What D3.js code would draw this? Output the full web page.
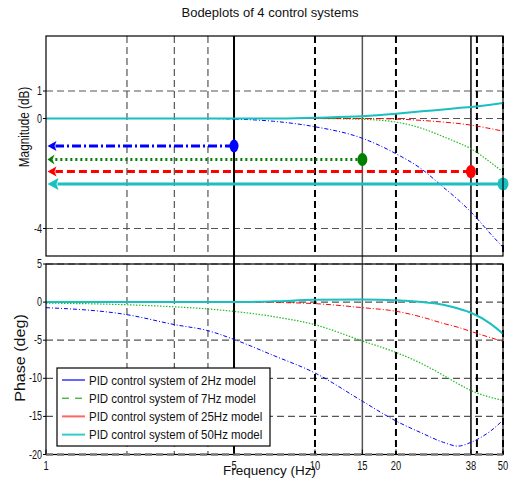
<!DOCTYPE html>
<html><head><meta charset="utf-8">
<script src="https://cdn.jsdelivr.net/npm/d3@7"></script>
<style>html,body{margin:0;padding:0;background:#fff}svg{display:block;font-family:"Liberation Sans",Arial,sans-serif}</style>
</head><body>
<svg id="c" width="514" height="481"></svg>
<script>
// ---------- data ----------
const title = "Bodeplots of 4 control systems";
const freqs = [1,2,3,4,5,7,10,15,20,25,30,34,38,45,50];
const magBlue  = [0,0,0,0,-0.02,-0.1,-0.3,-0.72,-1.28,-1.85,-2.5,-2.95,-3.4,-4.2,-4.68];
const magGreen = [0,0,0,0,0,0,0,-0.03,-0.13,-0.36,-0.66,-0.88,-1.1,-1.6,-1.95];
const magRed   = [0,0,0,0,0,0,0,0,-0.02,-0.07,-0.13,-0.18,-0.24,-0.37,-0.46];
const magCyan  = [0,0,0,0,0,0,0.03,0.08,0.17,0.26,0.33,0.38,0.42,0.5,0.56];
const phBlue   = [-0.73,-1.65,-2.95,-3.75,-4.9,-7.0,-9.3,-13,-15.6,-17.2,-18.4,-18.9,-18.4,-16.9,-15.5];
const phGreen  = [-0.13,-0.35,-0.62,-0.9,-1.22,-1.9,-2.97,-5.1,-6.6,-8.1,-9.6,-10.7,-11.6,-12.5,-12.9];
const phRed    = [0,0,0,0,0,-0.05,-0.2,-0.73,-1.2,-1.97,-2.8,-3.3,-3.85,-4.67,-5.16];
const phCyan   = [0,0,0,0,0,0.1,0.3,0.35,0.25,0,-0.35,-0.85,-1.4,-2.85,-4.15];
const legendLabels = ["PID control system of 2Hz model","PID control system of 7Hz model","PID control system of 25Hz model","PID control system of 50Hz model"];
const markerFreqs = [5,15,38,50];
const markerMags  = [-1.0,-1.49,-1.93,-2.38];
const xTicks = [1,5,10,15,20,38,50];
const xGridThin = [2,3,4];
const xGridBold = [10,20,40,50];
const magTicks = [1,0,-4];
const phTicks = [5,0,-5,-10,-15,-20];

// ---------- layout ----------
const svg = d3.select("#c");
const L=46, R=503, T1=36, B1=256, T2=264, B2=454.5;
const x = d3.scaleLog().domain([1,50]).range([L,R]);
const yM = d3.scaleLinear().domain([-5,3]).range([B1,T1]);
const yP = d3.scaleLinear().domain([-20,5]).range([B2,T2]);

const defs = svg.append("defs");
defs.append("clipPath").attr("id","cp1").append("rect").attr("x",L).attr("y",T1).attr("width",R-L).attr("height",B1-T1);
defs.append("clipPath").attr("id","cp2").append("rect").attr("x",L).attr("y",T2).attr("width",R-L).attr("height",B2-T2);

function txt(g,xx,yy,s,anchor,size,sx){
  return g.append("text").attr("transform",`translate(${xx},${yy}) scale(${sx},1)`)
    .attr("text-anchor",anchor).attr("font-size",size).attr("fill","#111").text(s);
}

// panels background
[[T1,B1],[T2,B2]].forEach(([t,b])=>svg.append("rect").attr("x",L).attr("y",t).attr("width",R-L).attr("height",b-t).attr("fill","#fff"));

// grid
function grid(y,top,bot,ticks){
  const g=svg.append("g");
  ticks.forEach(v=>g.append("line").attr("x1",L).attr("x2",R).attr("y1",y(v)).attr("y2",y(v))
    .attr("stroke","#555").attr("stroke-width",1.2).attr("stroke-dasharray","7,4"));
  xGridThin.forEach(v=>g.append("line").attr("x1",x(v)).attr("x2",x(v)).attr("y1",top).attr("y2",bot)
    .attr("stroke","#555").attr("stroke-width",1.2).attr("stroke-dasharray","7,4"));
  xGridBold.forEach(v=>g.append("line").attr("x1",x(v)).attr("x2",x(v)).attr("y1",top).attr("y2",bot)
    .attr("stroke","#000").attr("stroke-width",2).attr("stroke-dasharray","7,4"));
}
grid(yM,T1,B1,magTicks);
grid(yP,T2,B2,phTicks);

// vertical solid marker lines
svg.append("line").attr("x1",x(5)).attr("x2",x(5)).attr("y1",T1).attr("y2",B2).attr("stroke","#000").attr("stroke-width",2);
svg.append("line").attr("x1",x(15)).attr("x2",x(15)).attr("y1",T1).attr("y2",B2).attr("stroke","#555").attr("stroke-width",1.5);
svg.append("line").attr("x1",x(38)).attr("x2",x(38)).attr("y1",T1).attr("y2",B2).attr("stroke","#333").attr("stroke-width",1.8);

// curves
const series = [
  {mag:magBlue, ph:phBlue, color:"#0000ff", dash:"4,2,1,2", w:1},
  {mag:magGreen, ph:phGreen, color:"#22bb22", dash:"1.5,1.5", w:1.2},
  {mag:magRed, ph:phRed, color:"#ff0000", dash:"5,2,1,2", w:1},
  {mag:magCyan, ph:phCyan, color:"#1abfbf", dash:null, w:2}
];
const lineM = d3.line().x(d=>x(d[0])).y(d=>yM(d[1])).curve(d3.curveMonotoneX);
const lineP = d3.line().x(d=>x(d[0])).y(d=>yP(d[1])).curve(d3.curveMonotoneX);
const gM = svg.append("g").attr("clip-path","url(#cp1)");
const gP = svg.append("g").attr("clip-path","url(#cp2)");
series.forEach(s=>{
  gM.append("path").attr("d",lineM(freqs.map((f,i)=>[f,s.mag[i]]))).attr("fill","none")
    .attr("stroke",s.color).attr("stroke-width",s.w).attr("stroke-dasharray",s.dash);
  gP.append("path").attr("d",lineP(freqs.map((f,i)=>[f,s.ph[i]]))).attr("fill","none")
    .attr("stroke",s.color).attr("stroke-width",s.w).attr("stroke-dasharray",s.dash);
});

// arrows with markers
const arrows = [
  {color:"#0000ff", dash:"9,3,2,3", rx:4.5, ry:6.5, hl:9, hw:5},
  {color:"#007f00", dash:"2,3", rx:5, ry:6.5, hl:7, hw:5},
  {color:"#ff0000", dash:"8,4", rx:5, ry:6.5, hl:9, hw:5},
  {color:"#1abfbf", dash:null, rx:5.5, ry:6.5, hl:11, hw:6}
];
const gA = svg.append("g");
arrows.forEach((a,i)=>{
  const xe=x(markerFreqs[i]), yy=yM(markerMags[i]), xs=L+1.5;
  gA.append("line").attr("x1",xe).attr("x2",xs+a.hl-1).attr("y1",yy).attr("y2",yy)
    .attr("stroke",a.color).attr("stroke-width",3).attr("stroke-dasharray",a.dash);
  gA.append("path").attr("d",`M${xs},${yy}L${xs+a.hl},${yy-a.hw}L${xs+a.hl-2},${yy}L${xs+a.hl},${yy+a.hw}Z`).attr("fill",a.color);
  gA.append("ellipse").attr("cx",xe).attr("cy",yy).attr("rx",a.rx).attr("ry",a.ry).attr("fill",a.color);
});

// axes boxes
[[T1,B1],[T2,B2]].forEach(([t,b])=>svg.append("rect").attr("x",L).attr("y",t).attr("width",R-L).attr("height",b-t)
  .attr("fill","none").attr("stroke","#000").attr("stroke-width",1.2));
svg.append("line").attr("x1",L).attr("x2",R).attr("y1",yP(-20)).attr("y2",yP(-20))
  .attr("stroke","#777").attr("stroke-width",2.5).attr("stroke-dasharray","7,4");

// ticks and labels
const gt = svg.append("g");
magTicks.forEach(v=>{
  gt.append("line").attr("x1",L-3).attr("x2",L).attr("y1",yM(v)).attr("y2",yM(v)).attr("stroke","#000");
  txt(gt,L-4,yM(v)+4,String(v),"end",12,0.75);
});
phTicks.forEach(v=>{
  gt.append("line").attr("x1",L-3).attr("x2",L).attr("y1",yP(v)).attr("y2",yP(v)).attr("stroke","#000");
  txt(gt,L-4,yP(v)+4,String(v),"end",12,0.75);
});
xTicks.forEach(v=>{
  gt.append("line").attr("x1",x(v)).attr("x2",x(v)).attr("y1",B2).attr("y2",B2-5).attr("stroke","#000");
  txt(gt,x(v),470,String(v),"middle",13,0.72);
});

// legend
const lg = svg.append("g");
lg.append("rect").attr("x",57).attr("y",368).attr("width",213).attr("height",78).attr("fill","#fff").attr("stroke","#000").attr("stroke-width",1.2);
const legStyles = [
  {color:"#6666ff", dash:null, w:2},
  {color:"#009900", dash:"7,6", w:1},
  {color:"#ff6666", dash:null, w:2},
  {color:"#33cccc", dash:null, w:2}
];
legendLabels.forEach((s,i)=>{
  const yy = 380 + i*18.2;
  lg.append("line").attr("x1",62).attr("x2",85).attr("y1",yy).attr("y2",yy)
    .attr("stroke",legStyles[i].color).attr("stroke-width",legStyles[i].w).attr("stroke-dasharray",legStyles[i].dash);
  txt(lg,89,yy+4.5,s,"start",13.5,0.85);
});

// titles
svg.append("text").attr("x",270).attr("y",17).attr("text-anchor","middle").attr("font-size",13).attr("fill","#111").text(title);
svg.append("text").attr("x",269.5).attr("y",475).attr("text-anchor","middle").attr("font-size",13.5).attr("fill","#111")
  .attr("textLength",93).attr("lengthAdjust","spacingAndGlyphs").text("Frequency  (Hz)");
svg.append("text").attr("transform","translate(29,127) rotate(-90) scale(0.76,1)").attr("text-anchor","middle").attr("font-size",15.5).attr("fill","#111")
  .text("Magnitude (dB)");
svg.append("text").attr("transform","translate(25,358) rotate(-90) scale(1.15,1)").attr("text-anchor","middle").attr("font-size",14).attr("fill","#111")
  .text("Phase (deg)");
</script>
</body></html>
